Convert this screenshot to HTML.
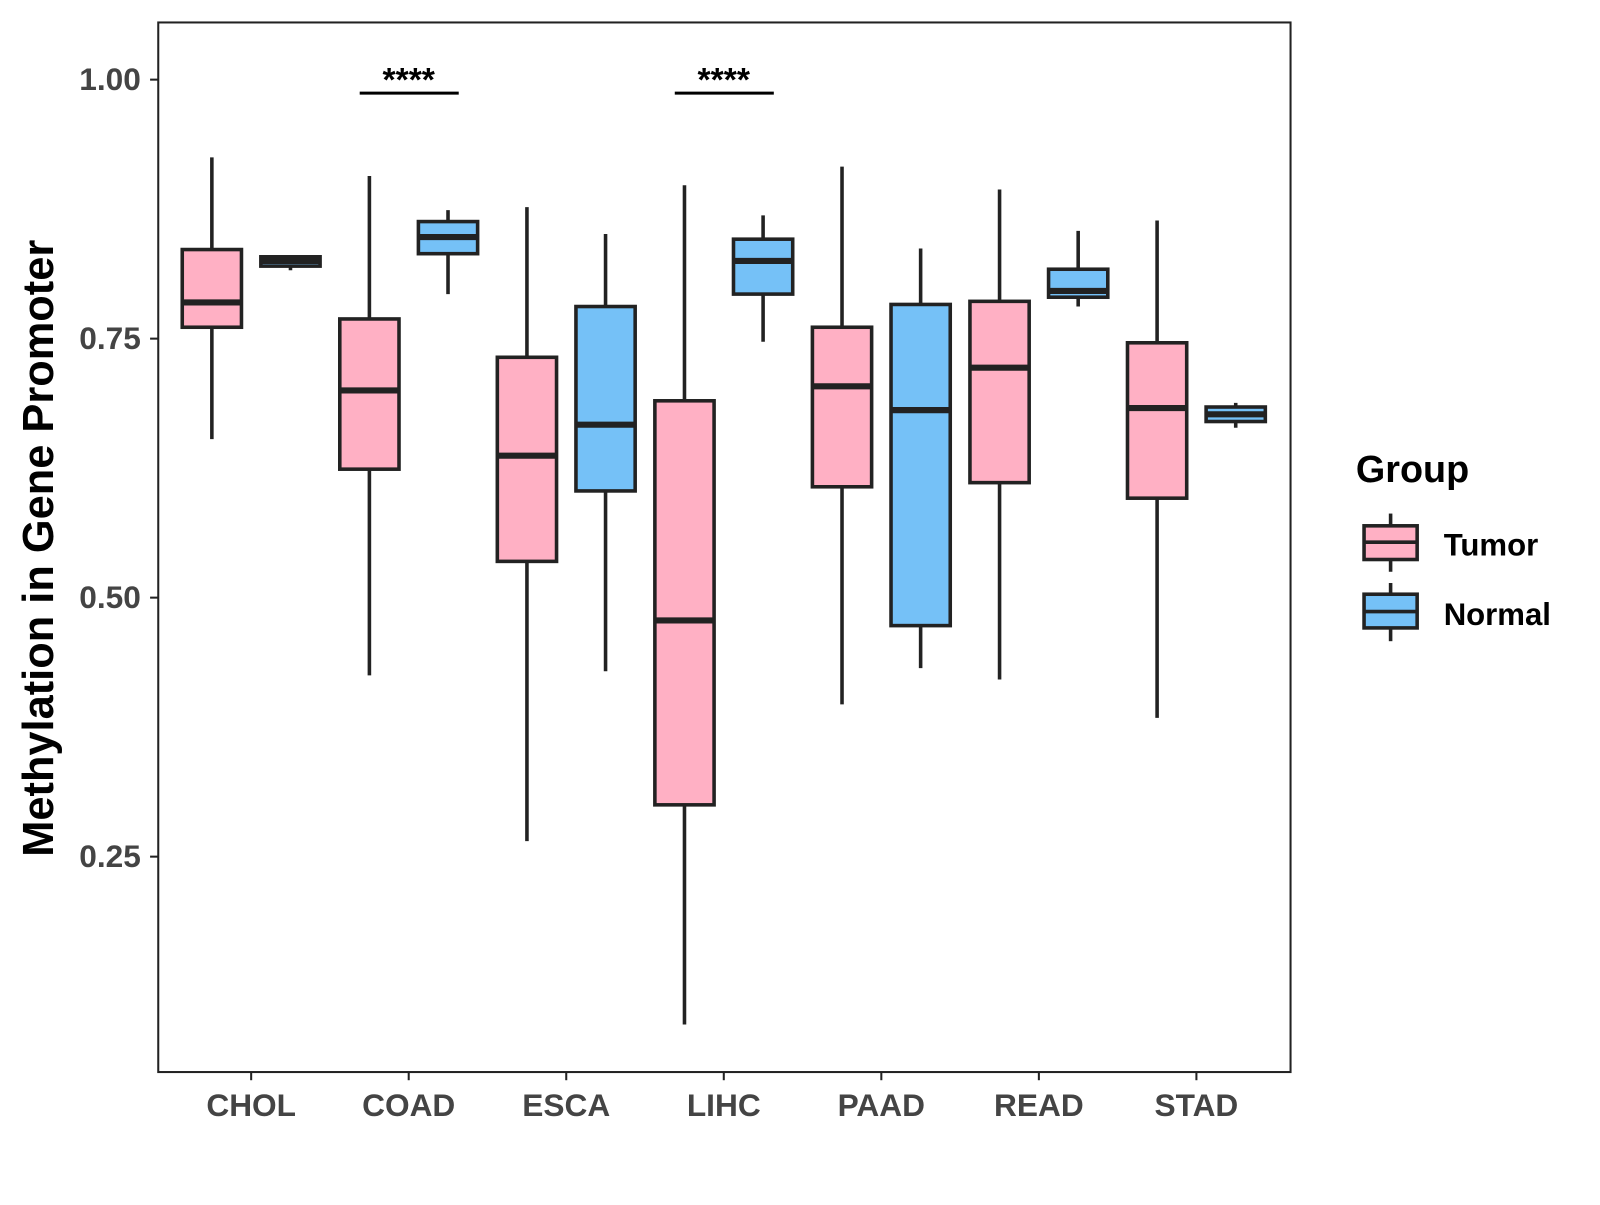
<!DOCTYPE html>
<html><head><meta charset="utf-8"><style>
body{margin:0;background:#fff;}
svg text{font-family:"Liberation Sans",Arial,sans-serif;font-weight:bold;}
</style></head><body>
<svg id="chart" width="1600" height="1200" viewBox="0 0 1600 1200">
<g transform="scale(1.021)">
<rect x="155" y="22" width="1109" height="1028" fill="#fff" stroke="#222" stroke-width="2"/>
<g id="yaxis"></g>
<g id="xaxis"></g>
<g id="boxes"></g>
<g id="sig"></g>
<text x="52" y="537" transform="rotate(-90 52 537)" text-anchor="middle" font-size="42.5" fill="#000">Methylation in Gene Promoter</text>
<g>
<text x="1328" y="472" font-size="37" fill="#000">Group</text>
<g>
<line x1="1362" y1="503" x2="1362" y2="560" stroke="#222" stroke-width="3.5"/>
<rect x="1336" y="515" width="52" height="33" fill="#FFB0C4" stroke="#222" stroke-width="3.5"/>
<line x1="1336" y1="531" x2="1388" y2="531" stroke="#222" stroke-width="3.5"/>
<text x="1414" y="544" font-size="30.5" fill="#000">Tumor</text></g>
<g>
<line x1="1362" y1="571" x2="1362" y2="628" stroke="#222" stroke-width="3.5"/>
<rect x="1336" y="582" width="52" height="33" fill="#75C1F7" stroke="#222" stroke-width="3.5"/>
<line x1="1336" y1="599" x2="1388" y2="599" stroke="#222" stroke-width="3.5"/>
<text x="1414" y="612" font-size="30.5" fill="#000">Normal</text></g>
</g>
</g>
</svg>
<script>
const categories=["CHOL","COAD","ESCA","LIHC","PAAD","READ","STAD"];
// [lower whisker, q1, median, q3, upper whisker]
const tumorStats=[[0.653,0.761,0.785,0.836,0.925],[0.425,0.624,0.700,0.769,0.907],[0.265,0.535,0.637,0.732,0.877],[0.088,0.300,0.478,0.690,0.898],[0.397,0.607,0.704,0.761,0.916],[0.421,0.611,0.722,0.786,0.894],[0.384,0.596,0.683,0.746,0.864]];
const normalStats=[[0.816,0.820,0.825,0.829,0.830],[0.793,0.832,0.848,0.863,0.874],[0.429,0.603,0.667,0.781,0.851],[0.747,0.793,0.825,0.846,0.869],[0.432,0.473,0.681,0.783,0.837],[0.781,0.790,0.796,0.817,0.854],[0.664,0.670,0.677,0.684,0.688]];
const yTicks=[0.25,0.50,0.75,1.00];
const yTickLabels=["0.25","0.50","0.75","1.00"];
const sigCategories=["COAD","LIHC"];
const sigLabels=["****","****"];
const sigLevel=0.987;

const NS="http://www.w3.org/2000/svg";
const y=v=>78+(1-v)*1014.7;
const x=i=>246+i*154.3;
function mk(tag,attrs,parent,text){const e=document.createElementNS(NS,tag);for(const k in attrs)e.setAttribute(k,attrs[k]);if(text!==undefined)e.textContent=text;parent.appendChild(e);return e;}
const ya=document.getElementById('yaxis'),xa=document.getElementById('xaxis'),bx=document.getElementById('boxes'),sg=document.getElementById('sig');
yTicks.forEach((t,i)=>{
 const l=mk('line',{x1:147,x2:155,y1:y(t),y2:y(t),stroke:'#222','stroke-width':2},ya);
 
 
 const tx=mk('text',{x:138,y:y(t)+10,'text-anchor':'end','font-size':31,fill:'#444'},ya,yTickLabels[i]);
 
 
});
categories.forEach((c,i)=>{
 const l=mk('line',{x1:x(i),x2:x(i),y1:1050,y2:1058,stroke:'#222','stroke-width':2},xa);
 
 
 const tx=mk('text',{x:x(i),y:1093,'text-anchor':'middle','font-size':31,fill:'#444'},xa,c);
 
 
});
function box(cx,s,fill,name){
 const g=mk('g',{},bx);
 
 
 mk('line',{x1:cx,x2:cx,y1:y(s[4]),y2:y(s[0]),stroke:'#222','stroke-width':3.5},g);
 mk('rect',{x:cx-29,y:y(s[3]),width:58,height:Math.max(y(s[1])-y(s[3]),1),fill:fill,stroke:'#222','stroke-width':3.5},g);
 mk('line',{x1:cx-29,x2:cx+29,y1:y(s[2]),y2:y(s[2]),stroke:'#222','stroke-width':6},g);
}
categories.forEach((c,i)=>{
 box(x(i)-38.5,tumorStats[i],'#FFB0C4','box-tumor-'+c.toLowerCase());
 box(x(i)+38.5,normalStats[i],'#75C1F7','box-normal-'+c.toLowerCase());
});
sigCategories.forEach((c,k)=>{
 const i=categories.indexOf(c);
 const l=mk('line',{x1:x(i)-48,x2:x(i)+49,y1:y(sigLevel),y2:y(sigLevel),stroke:'#000','stroke-width':3},sg);
 
 
 const t=mk('text',{x:x(i),y:y(sigLevel)-2,'text-anchor':'middle','font-size':33,fill:'#000'},sg,sigLabels[k]);
 
 
});
</script>
</body></html>
